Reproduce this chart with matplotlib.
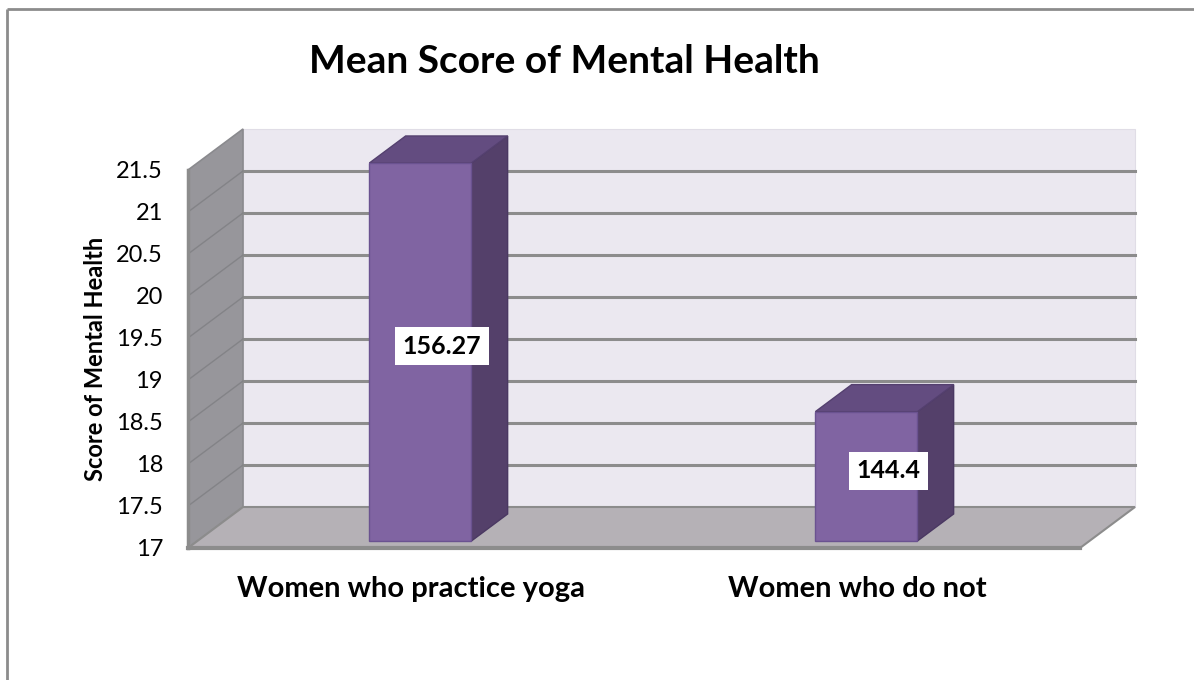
import matplotlib
matplotlib.use("Agg")
import matplotlib.pyplot as plt
from matplotlib.patches import Polygon
from matplotlib.lines import Line2D

# ---------------- data ----------------
title = "Mean Score of Mental Health"
categories = ["Women who practice yoga", "Women who do not"]
values = [21.5, 18.54]
value_labels = ["156.27", "144.4"]
y_label = "Score of Mental Health"
y_ticks = [17, 17.5, 18, 18.5, 19, 19.5, 20, 20.5, 21, 21.5]
y_tick_labels = ["17", "17.5", "18", "18.5", "19", "19.5", "20", "20.5", "21", "21.5"]

# ---------------- style ----------------
plt.rcParams['font.family'] = ['Lato', 'DejaVu Sans']
W, H = 1194, 680
fig = plt.figure(figsize=(W / 100, H / 100), dpi=100)
fig.patch.set_facecolor('white')

# front plane of the 3-D plot
L, R, B, T = 188, 1080, 548, 170
ax = fig.add_axes([L / W, (H - B) / H, (R - L) / W, (B - T) / H])
ymin, ymax = y_ticks[0], y_ticks[-1]
x0, x1 = -0.5, len(categories) - 0.5
ax.set_xlim(x0, x1)
ax.set_ylim(ymin, ymax)
ax.patch.set_visible(False)
for s in ax.spines.values():
    s.set_visible(False)

px_x = (R - L) / (x1 - x0)
px_y = (B - T) / (ymax - ymin)
ddx = 55 / px_x   # depth offset in data units
ddy = 41 / px_y

wall_col = '#EBE8F0'
side_col = '#97969B'
floor_col = '#B5B1B6'
grid_col = '#8C8C8C'

# back wall
ax.add_patch(Polygon([(x0 + ddx, ymin + ddy), (x1 + ddx, ymin + ddy),
                      (x1 + ddx, ymax + ddy), (x0 + ddx, ymax + ddy)],
                     closed=True, fc=wall_col, ec='#E0DDE6', lw=0.8,
                     clip_on=False, zorder=1))
# left side wall
ax.add_patch(Polygon([(x0, ymin), (x0 + ddx, ymin + ddy),
                      (x0 + ddx, ymax + ddy), (x0, ymax)],
                     closed=True, fc=side_col, ec='#8A8A8E', lw=1.2,
                     clip_on=False, zorder=2))
# gridlines
for t in y_ticks[1:-1]:
    ax.add_line(Line2D([x0 + ddx, x1 + ddx], [t + ddy, t + ddy], color=grid_col,
                       lw=2.2, clip_on=False, zorder=3))
    ax.add_line(Line2D([x0, x0 + ddx], [t, t + ddy], color='#838387',
                       lw=1.0, clip_on=False, zorder=3))
# floor
ax.add_patch(Polygon([(x0, ymin), (x1, ymin), (x1 + ddx, ymin + ddy), (x0 + ddx, ymin + ddy)],
                     closed=True, fc=floor_col, ec=grid_col, lw=1.5,
                     clip_on=False, zorder=4))
ax.add_line(Line2D([x0, x1], [ymin, ymin], color=grid_col, lw=3,
                   clip_on=False, zorder=4))
ax.add_line(Line2D([x0, x0], [ymin, ymax], color=grid_col, lw=2.5,
                   clip_on=False, zorder=4))

# bars
f1, f2 = 0.17, 0.83
dd = f2 - f1
bw = 102 / px_x
front_col, side_bar, top_bar, edge_bar = '#8064A2', '#54406A', '#634C80', '#6A5290'
for i, v in enumerate(values):
    xc = i + f1 * ddx
    yb = ymin + f1 * ddy
    top = v + f1 * ddy
    ax.bar(xc, v - ymin, width=bw, bottom=yb, color=front_col, edgecolor=edge_bar,
           lw=1, zorder=6, clip_on=False)
    xr = xc + bw / 2
    xl = xc - bw / 2
    ax.add_patch(Polygon([(xr, yb), (xr + dd * ddx, yb + dd * ddy),
                          (xr + dd * ddx, top + dd * ddy), (xr, top)],
                         closed=True, fc=side_bar, ec='#4A3862', lw=1,
                         clip_on=False, zorder=5))
    ax.add_patch(Polygon([(xl, top), (xr, top), (xr + dd * ddx, top + dd * ddy),
                          (xl + dd * ddx, top + dd * ddy)],
                         closed=True, fc=top_bar, ec='#54406F', lw=1,
                         clip_on=False, zorder=5))
    ax.text(i + 0.07, (ymin + v) / 2 + 0.15, value_labels[i], ha='center', va='center',
            fontsize=18, fontweight='bold', color='black', zorder=10,
            bbox=dict(boxstyle='square,pad=0.3', fc='white', ec='none'))

# axes text
ax.set_yticks(y_ticks)
ax.set_yticklabels(y_tick_labels)
ax.tick_params(axis='y', length=0, pad=18, labelsize=17)
ax.set_xticks(range(len(categories)))
ax.set_xticklabels(categories, fontweight='bold')
ax.tick_params(axis='x', length=0, pad=20, labelsize=21)
ax.set_ylabel(y_label, fontsize=17, fontweight='bold')
ax.yaxis.set_label_coords((107 - L) / (R - L), 0.5)

fig.text(564 / W, 1 - 73 / H, title, ha='center', va='baseline',
         fontsize=28, fontweight='bold')

# chart border (left and top)
fig.add_artist(Line2D([7 / W, 7 / W], [0, 1 - 9 / H], color='#8C8C8C', lw=2,
                      solid_capstyle='butt', transform=fig.transFigure))
fig.add_artist(Line2D([7 / W, 1.01], [1 - 9 / H, 1 - 9 / H], color='#8C8C8C', lw=2,
                      solid_capstyle='butt', transform=fig.transFigure))

fig.savefig('out.png', dpi=100, facecolor='white')
